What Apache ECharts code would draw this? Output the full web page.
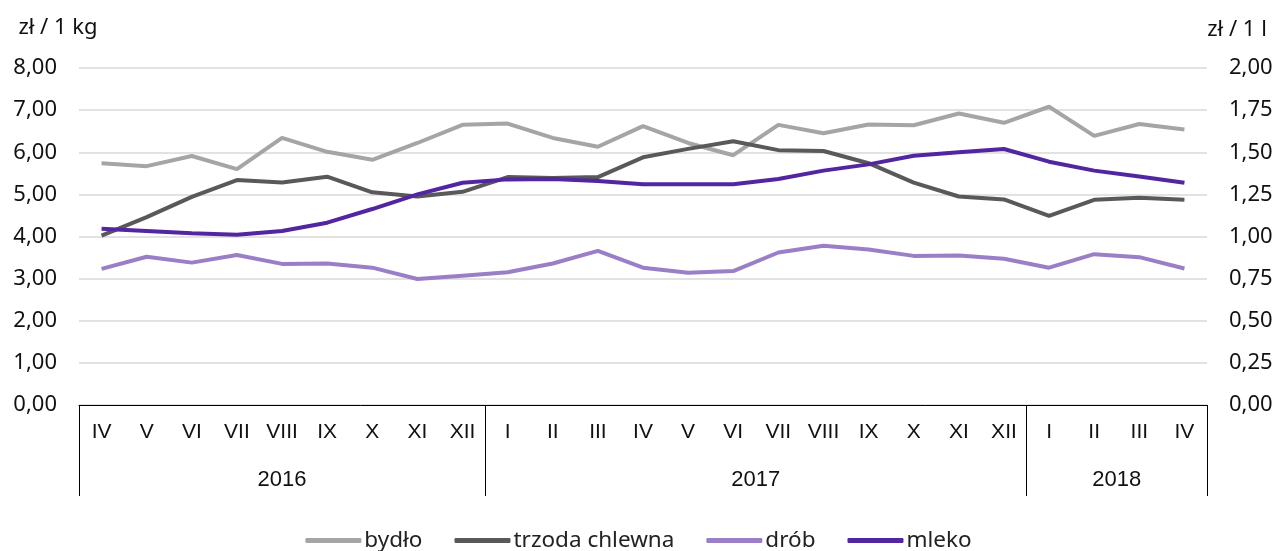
<!DOCTYPE html>
<html>
<head>
<meta charset="utf-8">
<script src="https://cdn.jsdelivr.net/npm/echarts@6/dist/echarts.min.js"></script>
<style>
html,body{margin:0;padding:0;background:#fff;}
#c{width:1277px;height:551px;}
</style>
</head>
<body>
<div id="c"></div>
<script>
// ---- data ----
const months = ['IV','V','VI','VII','VIII','IX','X','XI','XII',
  'I','II','III','IV','V','VI','VII','VIII','IX','X','XI','XII',
  'I','II','III','IV'];
const years = ['2016','2017','2018'];
const yearMonthCounts = [9, 12, 4];

const bydlo = [5.74,5.67,5.91,5.60,6.34,6.01,5.82,6.22,6.65,
  6.68,6.34,6.13,6.62,6.22,5.93,6.65,6.45,6.66,6.64,6.92,6.70,
  7.08,6.39,6.67,6.54];
const trzoda = [4.02,4.46,4.94,5.34,5.28,5.42,5.05,4.95,5.06,
  5.41,5.39,5.41,5.88,6.08,6.26,6.05,6.03,5.74,5.28,4.95,4.88,
  4.49,4.87,4.92,4.87];
const drob = [3.23,3.52,3.38,3.56,3.35,3.36,3.26,2.99,3.07,
  3.15,3.36,3.66,3.26,3.14,3.18,3.62,3.78,3.69,3.54,3.55,3.47,
  3.26,3.58,3.51,3.24];
const mleko = [1.046,1.033,1.019,1.010,1.033,1.082,1.163,1.250,1.319,
  1.339,1.341,1.330,1.310,1.310,1.310,1.341,1.391,1.428,1.479,1.500,1.519,
  1.444,1.391,1.356,1.319];

const seriesNames = ['bydło','trzoda chlewna','drób','mleko'];
const colors = ['#a5a5a5','#595959','#9a7fc6','#5126a0'];

// ---- year axis (half-step positions) ----
const yearAxisData = [];
for (let i = 0; i <= months.length * 2; i++) yearAxisData.push(String(i));
const yearLabelAt = {};
const boundaryAt = new Set();
let start = 0;
years.forEach((y, k) => {
  boundaryAt.add(start * 2);
  yearLabelAt[start * 2 + yearMonthCounts[k]] = y;
  start += yearMonthCounts[k];
});
boundaryAt.add(start * 2);

const fmt = v => v.toFixed(2).replace('.', ',');
const sansY = 'Noto Sans';
const sansX = 'Liberation Sans';

const chart = echarts.init(document.getElementById('c'), null, {renderer: 'canvas'});
chart.setOption({
  animation: false,
  color: colors,
  grid: {left: 79, right: 70, top: 68, bottom: 146, containLabel: false},
  legend: {
    data: seriesNames,
    top: 524,
    left: 'center',
    icon: 'roundRect',
    itemWidth: 56,
    itemHeight: 5,
    itemGap: 32,
    textStyle: {fontFamily: sansY, fontSize: 22.5, color: '#222', padding: [0,0,0,-2]}
  },
  xAxis: [
    {
      type: 'category',
      data: months,
      position: 'bottom',
      boundaryGap: true,
      axisLine: {show: true, lineStyle: {color: '#000', width: 1}},
      axisTick: {show: false},
      axisLabel: {interval: 0, margin: 17, fontFamily: sansX, fontSize: 21, color: '#111'},
      splitLine: {show: false}
    },
    {
      type: 'category',
      data: yearAxisData,
      position: 'bottom',
      boundaryGap: false,
      axisLine: {show: false},
      axisTick: {
        show: true,
        length: 91,
        interval: (idx) => boundaryAt.has(idx),
        lineStyle: {color: '#000', width: 1}
      },
      axisLabel: {
        interval: 0,
        margin: 64,
        fontFamily: sansX, fontSize: 22, color: '#111',
        formatter: (v, idx) => yearLabelAt[idx] || ''
      },
      splitLine: {show: false}
    }
  ],
  yAxis: [
    {
      type: 'value',
      min: 0, max: 8, interval: 1,
      name: 'zł / 1 kg',
      nameLocation: 'end',
      nameGap: 29,
      nameTextStyle: {fontFamily: sansY, fontSize: 22, color: '#111', align: 'center', padding: [0, 42, 0, 0]},
      axisLine: {show: false},
      axisTick: {show: false},
      axisLabel: {margin: 22, fontFamily: sansY, fontSize: 22, color: '#111', formatter: fmt},
      splitLine: {show: true, lineStyle: {color: '#d9d9d9', width: 1.5}}
    },
    {
      type: 'value',
      min: 0, max: 2, interval: 0.25,
      position: 'right',
      name: 'zł / 1 l',
      nameLocation: 'end',
      nameGap: 27,
      nameTextStyle: {fontFamily: sansY, fontSize: 22, color: '#111', align: 'center', padding: [0, 0, 0, 60]},
      axisLine: {show: false},
      axisTick: {show: false},
      axisLabel: {margin: 22, fontFamily: sansY, fontSize: 22, color: '#111', formatter: fmt},
      splitLine: {show: false}
    }
  ],
  series: [
    {name: seriesNames[0], type: 'line', data: bydlo, yAxisIndex: 0, xAxisIndex: 0, symbol: 'none', lineStyle: {width: 4}},
    {name: seriesNames[1], type: 'line', data: trzoda, yAxisIndex: 0, xAxisIndex: 0, symbol: 'none', lineStyle: {width: 4}},
    {name: seriesNames[2], type: 'line', data: drob, yAxisIndex: 0, xAxisIndex: 0, symbol: 'none', lineStyle: {width: 4}},
    {name: seriesNames[3], type: 'line', data: mleko, yAxisIndex: 1, xAxisIndex: 0, symbol: 'none', lineStyle: {width: 4}}
  ]
});
</script>
</body>
</html>
